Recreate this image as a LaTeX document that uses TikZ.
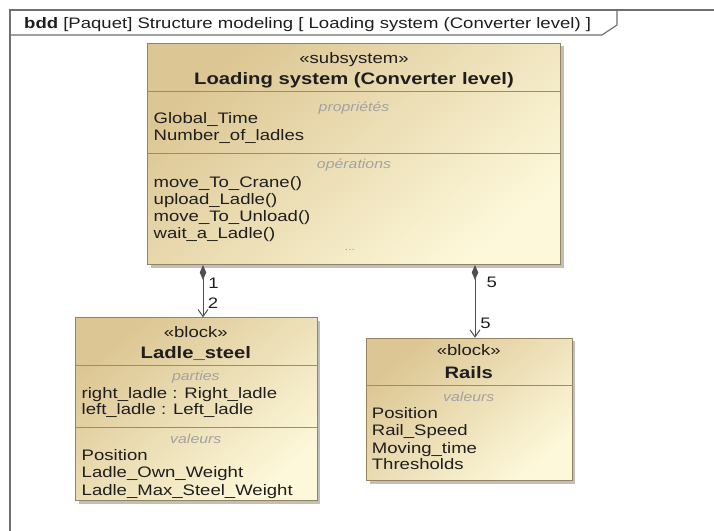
\documentclass[tikz,border=0pt]{standalone}
\usepackage{fontspec}
\setmainfont{Liberation Sans}[FakeStretch=1.22]
\usetikzlibrary{arrows.meta,shadows}
\definecolor{framec}{HTML}{707070}
\definecolor{txtc}{HTML}{1E1E1E}
\definecolor{grayc}{HTML}{A2A2A2}
\definecolor{bordc}{HTML}{94835F}
\definecolor{divc}{HTML}{9E8C66}
\definecolor{blkA}{HTML}{DCC693}
\definecolor{blkB}{HTML}{FDF8DA}
\definecolor{linec}{HTML}{505050}
\begin{document}
\begin{tikzpicture}[x=1bp,y=-1bp,
  lt/.style={inner sep=0pt, anchor=base west, text=txtc, font=\fontsize{15.2bp}{17bp}\selectfont},
  ct/.style={inner sep=0pt, anchor=base, text=txtc, font=\fontsize{15.2bp}{17bp}\selectfont},
  tt/.style={inner sep=0pt, anchor=base, text=txtc, font=\fontsize{16.6bp}{19bp}\selectfont\bfseries},
  cmp/.style={inner sep=0pt, anchor=base, text=grayc, font=\fontsize{13bp}{15bp}\selectfont\itshape},
  blockbox/.style={draw=bordc, line width=1bp, left color=blkA, right color=blkB, shading angle=40,
    drop shadow={shadow xshift=3bp, shadow yshift=-3bp, fill=black!45, opacity=0.55},
    inner sep=0pt, anchor=north west},
  divl/.style={draw=divc, line width=1bp},
  comp/.style={draw=linec, line width=1bp,
    {Diamond[length=15bp,width=6.5bp,fill=linec]}-{Straight Barb[length=7bp,width=10bp]}},
  mult/.style={inner sep=0pt, anchor=base, text=txtc, font=\fontsize{15.2bp}{17bp}\selectfont}
]
\useasboundingbox (0,0) rectangle (714,531);
\fill[white] (0,0) rectangle (714,531);

% frame
\draw[framec, line width=1.6bp] (10,531) -- (10,10) -- (714,10);
\draw[framec, line width=1.2bp] (10,35) -- (602,35) -- (617,25) -- (617,10);
\node[lt] (hdr) at (24,28.5) {{\bfseries bdd} [Paquet] Structure modeling [ Loading system (Converter level) ]};

% main block
\node[blockbox, minimum width=412.7bp, minimum height=221.3bp] (main) at (147.3,42.7) {};
\draw[divl] (main.west |- 0,92) -- (main.east |- 0,92);
\draw[divl] (main.west |- 0,153.5) -- (main.east |- 0,153.5);
\node[ct] (m1) at (354,63.5) {«subsystem»};
\node[tt] (m2) at (354,85) {Loading system (Converter level)};
\node[cmp] (m3) at (354,111.7) {propriétés};
\node[lt] (m4) at (153.5,124) {Global\_Time};
\node[lt] (m5) at (153.5,141) {Number\_of\_ladles};
\node[cmp] (m6) at (354,168.7) {opérations};
\node[lt] (m7) at (153.5,187.2) {move\_To\_Crane()};
\node[lt] (m8) at (153.5,204.5) {upload\_Ladle()};
\node[lt] (m9) at (153.5,221.5) {move\_To\_Unload()};
\node[lt] (m10) at (153.5,238.2) {wait\_a\_Ladle()};
\node[cmp, font=\fontsize{10bp}{12bp}\selectfont] (m11) at (350,251) {...};

% Ladle_steel block
\node[blockbox, minimum width=241.7bp, minimum height=182.7bp] (lad) at (75,317.3) {};
\draw[divl] (lad.west |- 0,365.7) -- (lad.east |- 0,365.7);
\draw[divl] (lad.west |- 0,427.3) -- (lad.east |- 0,427.3);
\node[ct] (l1) at (195.8,337.2) {«block»};
\node[tt] (l2) at (195.8,358.7) {Ladle\_steel};
\node[cmp] (l3) at (195.8,380.7) {parties};
\node[lt] (l4) at (81.5,398.2) {right\_ladle : Right\_ladle};
\node[lt] (l5) at (81.5,414.8) {left\_ladle : Left\_ladle};
\node[cmp] (l6) at (195.8,443) {valeurs};
\node[lt] (l7) at (81.5,460.5) {Position};
\node[lt] (l8) at (81.5,477.8) {Ladle\_Own\_Weight};
\node[lt] (l9) at (81.5,495.3) {Ladle\_Max\_Steel\_Weight};

% Rails block
\node[blockbox, minimum width=205.7bp, minimum height=142.3bp] (rai) at (366,337.7) {};
\draw[divl] (rai.west |- 0,385.7) -- (rai.east |- 0,385.7);
\node[ct] (r1) at (468.8,355.5) {«block»};
\node[tt] (r2) at (468.8,378.3) {Rails};
\node[cmp] (r3) at (468.8,401.4) {valeurs};
\node[lt] (r4) at (371.7,418.2) {Position};
\node[lt] (r5) at (371.7,435.5) {Rail\_Speed};
\node[lt] (r6) at (371.7,453.2) {Moving\_time};
\node[lt] (r7) at (371.7,469.8) {Thresholds};

% connectors
\coordinate (lx) at (203,0);
\coordinate (rx) at (475,0);
\draw[comp] (main.south -| lx) -- (lad.north -| lx);
\draw[comp] (main.south -| rx) -- (rai.north -| rx);
\node[mult] (n1) at (213.5,288) {1};
\node[mult] (n2) at (213,308.5) {2};
\node[mult] (n3) at (491.7,287.8) {5};
\node[mult] (n4) at (485.5,328.8) {5};
\end{tikzpicture}
\end{document}
